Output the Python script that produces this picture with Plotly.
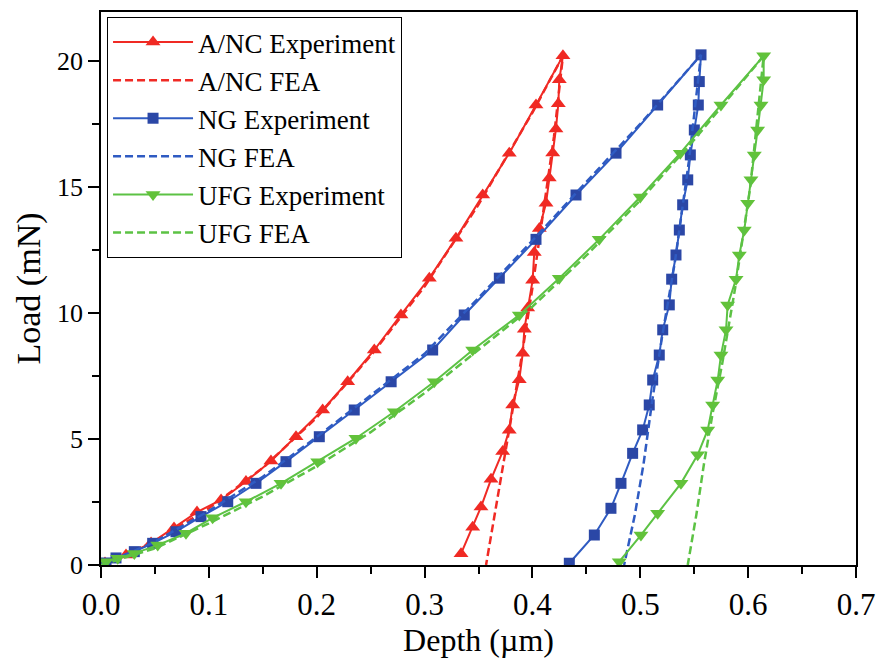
import plotly.graph_objects as go

# ---------------- data (depth in µm, load in mN) ----------------
anc_exp_load_x = [0.0037, 0.0232, 0.0464, 0.0677, 0.089, 0.1113, 0.1344, 0.1576, 0.1808, 0.2055,
                  0.2287, 0.2534, 0.2781, 0.3044, 0.3291, 0.3539, 0.3785, 0.4033, 0.4283]
anc_exp_load_y = [0.08, 0.4, 0.87, 1.47, 2.1, 2.58, 3.31, 4.13, 5.09, 6.15,
                  7.27, 8.53, 9.92, 11.38, 12.96, 14.68, 16.34, 18.25, 20.2]
anc_exp_unload_x = [0.4249, 0.424, 0.4218, 0.4188, 0.4156, 0.4126, 0.4064, 0.4017, 0.4002, 0.3956,
                    0.3925, 0.391, 0.3878, 0.3817, 0.3785, 0.3724, 0.3616, 0.3523, 0.3446, 0.3338]
anc_exp_unload_y = [19.25, 18.3, 17.3, 16.35, 15.35, 14.35, 13.35, 12.4, 11.3, 10.2,
                    9.35, 8.4, 7.35, 6.35, 5.35, 4.5, 3.4, 2.3, 1.5, 0.45]
anc_fea_x = [0.0, 0.05, 0.1, 0.15, 0.2, 0.25, 0.3, 0.35, 0.4, 0.4283,
             0.42, 0.41, 0.4, 0.389, 0.379, 0.371, 0.364, 0.357]
anc_fea_y = [0.0, 0.95, 2.25, 3.85, 5.85, 8.3, 11.05, 14.3, 17.95, 20.2,
             17.0, 14.0, 11.0, 8.0, 5.5, 3.5, 1.8, 0.0]

ng_exp_load_x = [0.0046, 0.0139, 0.0309, 0.0479, 0.0695, 0.0927, 0.1175, 0.1437, 0.1715, 0.2024,
                 0.2348, 0.269, 0.3075, 0.3368, 0.3693, 0.4033, 0.4404, 0.4775, 0.5161, 0.5563]
ng_exp_load_y = [0.08, 0.28, 0.53, 0.86, 1.32, 1.92, 2.51, 3.24, 4.1, 5.09,
                 6.15, 7.27, 8.53, 9.92, 11.38, 12.92, 14.68, 16.34, 18.25, 20.24]
ng_exp_unload_x = [0.5547, 0.5538, 0.5501, 0.5464, 0.544, 0.5393, 0.5362, 0.5331, 0.5291, 0.5269,
                   0.5208, 0.5176, 0.5115, 0.5083, 0.5022, 0.4929, 0.4821, 0.4728, 0.4574, 0.4342]
ng_exp_unload_y = [19.18, 18.25, 17.26, 16.27, 15.28, 14.29, 13.29, 12.3, 11.34, 10.32,
                   9.33, 8.33, 7.34, 6.35, 5.36, 4.43, 3.24, 2.25, 1.19, 0.07]
ng_fea_x = [0.0, 0.05, 0.1, 0.15, 0.2, 0.25, 0.3, 0.35, 0.4, 0.45, 0.5, 0.5563,
            0.545, 0.532, 0.52, 0.511, 0.503, 0.495, 0.485]
ng_fea_y = [0.0, 0.92, 2.15, 3.5, 5.08, 6.74, 8.38, 10.6, 12.87, 15.2, 17.5, 20.24,
            16.0, 12.0, 9.0, 6.5, 4.0, 2.0, 0.0]

ufg_exp_load_x = [0.0046, 0.0155, 0.0309, 0.0526, 0.0788, 0.1035, 0.1344, 0.1669, 0.2009, 0.2364,
                  0.2719, 0.309, 0.3446, 0.3878, 0.4249, 0.4619, 0.5, 0.5371, 0.5748, 0.6144]
ufg_exp_load_y = [0.13, 0.27, 0.46, 0.79, 1.26, 1.87, 2.51, 3.24, 4.1, 5.03,
                  6.08, 7.27, 8.53, 9.92, 11.38, 12.92, 14.6, 16.34, 18.25, 20.2]
ufg_exp_unload_x = [0.6144, 0.6119, 0.6088, 0.6057, 0.6026, 0.5996, 0.5964, 0.5918, 0.5888, 0.581,
                    0.5795, 0.5748, 0.5718, 0.5671, 0.5625, 0.5532, 0.5377, 0.5161, 0.5006, 0.4805]
ufg_exp_unload_y = [19.25, 18.25, 17.26, 16.27, 15.28, 14.35, 13.29, 12.3, 11.34, 10.32,
                    9.33, 8.33, 7.34, 6.35, 5.36, 4.37, 3.24, 2.05, 1.19, 0.13]
ufg_fea_x = [0.0, 0.05, 0.1, 0.15, 0.2, 0.25, 0.3, 0.35, 0.4, 0.45, 0.5, 0.55, 0.6, 0.6144,
             0.602, 0.588, 0.576, 0.567, 0.559, 0.552, 0.544]
ufg_fea_y = [0.0, 0.66, 1.65, 2.72, 3.92, 5.27, 6.82, 8.55, 10.25, 12.28, 14.47, 16.87, 19.42, 20.2,
             15.0, 11.0, 8.0, 6.0, 4.0, 2.0, 0.0]

x_ticks = [0.0, 0.1, 0.2, 0.3, 0.4, 0.5, 0.6, 0.7]
x_tick_labels = ["0.0", "0.1", "0.2", "0.3", "0.4", "0.5", "0.6", "0.7"]
y_ticks = [0, 5, 10, 15, 20]
y_tick_labels = ["0", "5", "10", "15", "20"]

RED = "#f02a24"
BLUE_LINE = "#2f5bc2"
BLUE_MK = "#2b47a6"
GREEN_LINE = "#5cc244"
GREEN_MK = "#62c23a"
FONT = "Liberation Serif"

fig = go.Figure()

def exp_trace(name, lx, ly, ux, uy, lc, mc, symbol, size):
    return go.Scatter(x=lx + ux, y=ly + uy, name=name, mode="lines+markers",
                      line=dict(color=lc, width=2),
                      marker=dict(symbol=symbol, size=size, color=mc, line=dict(width=0)))

def fea_trace(name, x, y, c):
    return go.Scatter(x=x, y=y, name=name, mode="lines",
                      line=dict(color=c, width=2.5, dash="8px,4px"))

fig.add_trace(exp_trace("A/NC Experiment", anc_exp_load_x, anc_exp_load_y,
                        anc_exp_unload_x, anc_exp_unload_y, RED, RED, "triangle-up", 13))
fig.add_trace(fea_trace("A/NC FEA", anc_fea_x, anc_fea_y, RED))
fig.add_trace(exp_trace("NG Experiment", ng_exp_load_x, ng_exp_load_y,
                        ng_exp_unload_x, ng_exp_unload_y, BLUE_LINE, BLUE_MK, "square", 11))
fig.add_trace(fea_trace("NG FEA", ng_fea_x, ng_fea_y, BLUE_LINE))
fig.add_trace(exp_trace("UFG Experiment", ufg_exp_load_x, ufg_exp_load_y,
                        ufg_exp_unload_x, ufg_exp_unload_y, GREEN_LINE, GREEN_MK, "triangle-down", 13))
fig.add_trace(fea_trace("UFG FEA", ufg_fea_x, ufg_fea_y, GREEN_LINE))

axis_common = dict(showgrid=False, zeroline=False, showline=True, linecolor="black", linewidth=1.5,
                   mirror=True, ticks="outside", ticklen=11, tickwidth=1.5, tickcolor="black",
                   automargin=False)

fig.update_xaxes(range=[0, 0.7], tickvals=x_ticks, ticktext=x_tick_labels,
                 tickfont=dict(family=FONT, size=31, color="black"),
                 title=dict(text="Depth (µm)", font=dict(family=FONT, size=32, color="black"), standoff=8),
                 minor=dict(dtick=0.05, ticks="outside", ticklen=7, tickwidth=1.5, tickcolor="black"),
                 **axis_common)
fig.update_yaxes(range=[0, 21.94], tickvals=y_ticks, ticktext=y_tick_labels,
                 tickfont=dict(family=FONT, size=26, color="black"),
                 title=dict(text="Load (mN)", font=dict(family=FONT, size=34, color="black"), standoff=6),
                 minor=dict(dtick=2.5, ticks="outside", ticklen=7, tickwidth=1.5, tickcolor="black"),
                 **axis_common)

fig.update_layout(
    width=879, height=662,
    margin=dict(l=101, r=23, t=12, b=97),
    plot_bgcolor="white", paper_bgcolor="white",
    showlegend=True,
    legend=dict(x=0.008, y=0.991, xanchor="left", yanchor="top",
                bordercolor="black", borderwidth=1, bgcolor="white",
                font=dict(family=FONT, size=27, color="black"),
                itemwidth=80, tracegroupgap=0),
)

fig.write_html("out.html")
